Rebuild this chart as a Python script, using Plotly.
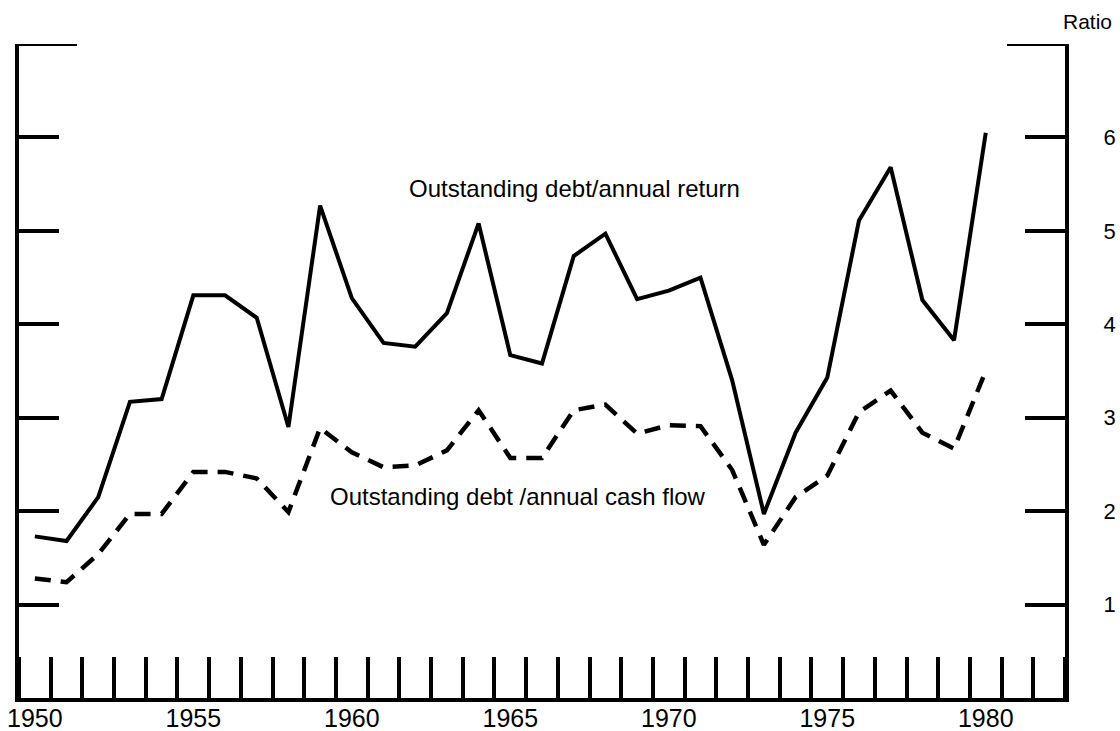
import plotly.graph_objects as go

years = list(range(1950, 1981))
debt_return = [1.73, 1.68, 2.15, 3.17, 3.20, 4.31, 4.31, 4.07, 2.90, 5.27,
               4.28, 3.80, 3.76, 4.12, 5.08, 3.67, 3.58, 4.73, 4.97, 4.27,
               4.36, 4.50, 3.40, 1.97, 2.84, 3.43, 5.11, 5.68, 4.26, 3.83, 6.05]
debt_cashflow = [1.28, 1.24, 1.54, 1.97, 1.97, 2.42, 2.42, 2.35, 1.99, 2.89,
                 2.63, 2.47, 2.49, 2.65, 3.08, 2.57, 2.57, 3.08, 3.14, 2.83,
                 2.92, 2.91, 2.44, 1.64, 2.15, 2.38, 3.06, 3.29, 2.84, 2.67, 3.50]
year_ticks = [1950, 1955, 1960, 1965, 1970, 1975, 1980]
ratio_ticks = [1, 2, 3, 4, 5, 6, 7]
ratio_labels = ["1", "2", "3", "4", "5", "6", ""]

FONT = "Liberation Sans, Arial, Helvetica, sans-serif"

fig = go.Figure()
fig.add_trace(go.Scatter(x=years, y=debt_return, mode="lines",
                         line=dict(color="black", width=4),
                         showlegend=False, hoverinfo="skip"))
fig.add_trace(go.Scatter(x=years, y=debt_cashflow, mode="lines",
                         line=dict(color="black", width=4.5, dash="16px,10px"),
                         showlegend=False, hoverinfo="skip"))

fig.add_annotation(x=1961.75, y=5.45, text="Outstanding debt/annual return",
                   showarrow=False, xanchor="left", yanchor="middle",
                   font=dict(family=FONT, size=24, color="black"))
fig.add_annotation(x=1959.25, y=2.155, text="Outstanding debt /annual cash flow",
                   showarrow=False, xanchor="left", yanchor="middle",
                   font=dict(family=FONT, size=24, color="black"))
fig.add_annotation(xref="paper", yref="paper", x=1, y=1, xshift=-4, yshift=23,
                   text="Ratio", showarrow=False, xanchor="left", yanchor="middle",
                   font=dict(family=FONT, size=21, color="black"))

# longer top ticks
fig.add_shape(type="line", xref="x", yref="y", xsizemode="pixel", xanchor=1949.5,
              x0=0, x1=58, y0=7, y1=7, line=dict(color="black", width=4))
fig.add_shape(type="line", xref="x", yref="y", xsizemode="pixel", xanchor=1982.5,
              x0=-58, x1=0, y0=7, y1=7, line=dict(color="black", width=4))

fig.update_xaxes(range=[1949.5, 1982.5], showline=True, linecolor="black", linewidth=4,
                 tickvals=year_ticks, ticks="", showgrid=False, zeroline=False,
                 automargin=False, ticklabelstandoff=-5, ticklabeloverflow="allow",
                 tickfont=dict(family=FONT, size=25, color="black"),
                 minor=dict(tick0=1949.5, dtick=1, ticks="inside", ticklen=41,
                            tickwidth=4, tickcolor="black", showgrid=False))
fig.update_yaxes(range=[0, 7], side="right", showline=True, linecolor="black", linewidth=4,
                 mirror="ticks", tickvals=ratio_ticks, ticktext=ratio_labels,
                 ticks="inside", ticklen=40, tickwidth=4, tickcolor="black",
                 showgrid=False, zeroline=False, automargin=False, ticklabelstandoff=30,
                 ticklabeloverflow="allow",
                 tickfont=dict(family=FONT, size=22, color="black"))

fig.update_layout(width=1120, height=731,
                  margin=dict(l=19, r=55, t=44, b=33, autoexpand=False),
                  plot_bgcolor="white", paper_bgcolor="white")

# remove the default page margin and scrollbars so the figure fills the window exactly
fig.write_html("out.html",
               config={"displayModeBar": False},
               post_script="document.body.style.margin='0';"
                           "document.body.style.overflow='hidden';")
